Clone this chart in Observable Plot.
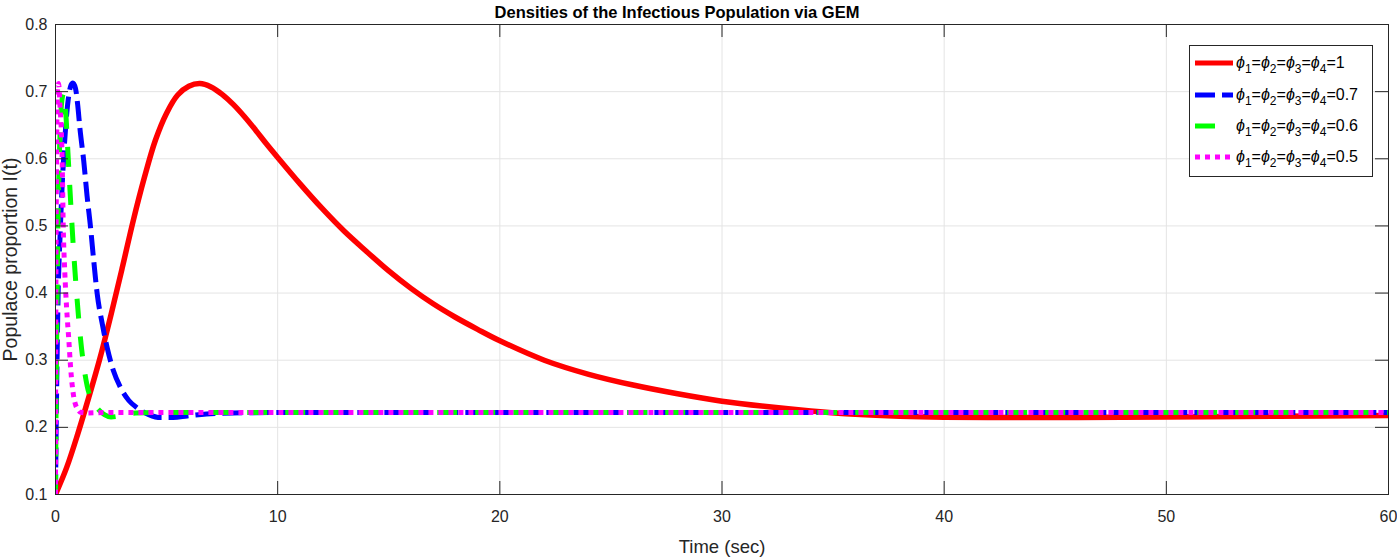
<!DOCTYPE html>
<html><head><meta charset="utf-8">
<script src="https://cdn.jsdelivr.net/npm/d3@7"></script>
<script src="https://cdn.jsdelivr.net/npm/@observablehq/plot@0.6"></script>
<style>
body{margin:0;background:#fff;}
#wrap{position:relative;width:1397px;height:557px;overflow:hidden;}
#legend{position:absolute;left:1189px;top:45px;}
</style></head><body><div id="wrap"></div>
<script>
// ---- data ----
const xTicks = [0, 10, 20, 30, 40, 50, 60];
const yTicks = [0.1, 0.2, 0.3, 0.4, 0.5, 0.6, 0.7, 0.8];
const seriesLabels = ["1", "0.7", "0.6", "0.5"];
const seriesColors = ["#ff0000", "#0000ff", "#00ff00", "#ff00ff"];
const seriesDash = [null, "20,7", "20,18", "5,5"];

const redT = [0,0.5,1,1.5,2,2.5,3,3.5,4,4.5,5,5.5,6,6.5,7,7.5,8,8.5,9,9.5,10,11,12,13,14,15,16,17,18,19,20,22,24,26,28,30,32,34,36,38,40,43,46,50,55,60];
const redI = [0.1,0.14,0.19,0.245,0.303,0.368,0.437,0.508,0.572,0.628,0.668,0.695,0.708,0.712,0.707,0.696,0.681,0.663,0.643,0.622,0.602,0.563,0.526,0.492,0.462,0.433,0.407,0.384,0.364,0.346,0.329,0.3,0.279,0.263,0.25,0.239,0.231,0.2245,0.2195,0.2165,0.215,0.2145,0.2148,0.2155,0.2165,0.2175];

const blueT = [0,0.03,0.07,0.12,0.2,0.3,0.4,0.5,0.6,0.7,0.78,0.9,1.0,1.1,1.27,1.42,1.58,1.73,1.88,2.1,2.33,2.6,2.93,3.3,3.68,4.2,4.73,5.3,5.93,6.8,8,10,60];
const blueI = [0.1,0.2,0.3,0.4,0.48,0.56,0.62,0.665,0.695,0.71,0.713,0.705,0.68,0.645,0.597,0.545,0.497,0.445,0.398,0.355,0.318,0.285,0.259,0.24,0.229,0.219,0.2145,0.2145,0.217,0.22,0.2215,0.222,0.222];

const greenT = [0,0.02,0.05,0.08,0.12,0.17,0.23,0.3,0.38,0.45,0.56,0.68,0.8,0.95,1.13,1.43,1.7,1.95,2.2,2.5,2.8,3.1,3.6,4.5,60];
const greenI = [0.1,0.2,0.32,0.42,0.52,0.6,0.66,0.69,0.698,0.675,0.609,0.537,0.47,0.4,0.331,0.261,0.237,0.226,0.219,0.2155,0.2165,0.219,0.2213,0.222,0.222];

const magentaT = [0,0.01,0.03,0.06,0.1,0.14,0.2,0.3,0.35,0.42,0.5,0.6,0.68,0.8,0.9,1.0,1.13,1.4,2.2,60];
const magentaI = [0.1,0.3,0.5,0.65,0.705,0.712,0.68,0.597,0.497,0.43,0.378,0.33,0.289,0.25,0.234,0.227,0.2225,0.2215,0.222,0.222];

const seriesT = [redT, blueT, greenT, magentaT];
const seriesI = [redI, blueI, greenI, magentaI];

// ---- layout ----
const W = 1397, H = 557;
const mL = 55, mR = 9, mT = 24, mB = 63;
const plotW = W - mL - mR, plotH = H - mT - mB;
const tick = 13;
const FONT = "'Liberation Sans', Arial, Helvetica, sans-serif";
const ink = "#262626";

const lineMarks = seriesLabels.map((lab, k) => {
  const rows = seriesT[k].map((t, i) => ({t, I: seriesI[k][i]}));
  return Plot.line(rows, {
    x: "t", y: "I", stroke: seriesColors[k], strokeWidth: k === 0 ? 5.5 : 5,
    strokeDasharray: seriesDash[k] || undefined, curve: k === 0 ? "catmull-rom" : "monotone-x", clip: true,
    strokeLinecap: "butt", strokeLinejoin: "round"
  });
});

const chart = Plot.plot({
  width: W, height: H,
  marginLeft: mL, marginRight: mR, marginTop: mT, marginBottom: mB,
  style: {fontFamily: FONT, fontSize: "16px", color: ink, background: "#fff"},
  x: {domain: [0, 60], ticks: xTicks},
  y: {domain: [0.1, 0.8], ticks: yTicks},
  marks: [
    Plot.gridX(xTicks, {stroke: "#e4e4e4", strokeOpacity: 1}),
    Plot.gridY(yTicks, {stroke: "#e4e4e4", strokeOpacity: 1}),
    ...lineMarks,
    Plot.frame({stroke: ink, strokeWidth: 1}),
    Plot.ruleX(xTicks, {stroke: ink, insetTop: plotH - tick}),
    Plot.ruleX(xTicks, {stroke: ink, insetBottom: plotH - tick}),
    Plot.ruleY(yTicks, {stroke: ink, insetRight: plotW - tick}),
    Plot.ruleY(yTicks, {stroke: ink, insetLeft: plotW - tick}),
    Plot.axisX({ticks: xTicks, tickSize: 0, tickPadding: 16, label: null, fontSize: 16}),
    Plot.axisY({ticks: yTicks, tickSize: 0, tickPadding: 8, label: null, fontSize: 16, tickFormat: d => d.toFixed(1)}),
    Plot.text(["Time (sec)"], {frameAnchor: "bottom", lineAnchor: "middle", dy: 53, fontSize: 18.5, fill: ink}),
    Plot.text(["Populace proportion I(t)"], {frameAnchor: "left", textAnchor: "middle", lineAnchor: "middle", dx: -45, rotate: -90, fontSize: 19.5, fill: ink}),
    Plot.text(["Densities of the Infectious Population via GEM"], {frameAnchor: "top", lineAnchor: "middle", dy: -12, dx: -45, fontSize: 16.5, fontWeight: "bold", fill: "#000"})
  ]
});
const wrap = document.getElementById("wrap");
wrap.appendChild(chart);

// ---- legend ----
const ns = "http://www.w3.org/2000/svg";
const lg = document.createElementNS(ns, "svg");
lg.setAttribute("id", "legend");
lg.setAttribute("width", 185); lg.setAttribute("height", 133);
let html = `<rect x="0.5" y="0.5" width="183" height="131" fill="#fff" stroke="${ink}"/>`;
const rowY = [18, 50, 81, 112];
seriesLabels.forEach((lab, k) => {
  const y = rowY[k];
  const dash = seriesDash[k] ? ` stroke-dasharray="${seriesDash[k]}"` : "";
  html += `<line x1="6" x2="44" y1="${y}" y2="${y}" stroke="${seriesColors[k]}" stroke-width="5"${dash}/>`;
  let t = `<text x="47" y="${y + 5}" font-family="Liberation Sans, Arial, sans-serif" font-size="16" fill="#000">`;
  for (let j = 1; j <= 4; j++) {
    t += `<tspan font-style="italic">ϕ</tspan><tspan dy="5" font-size="12">${j}</tspan><tspan dy="-5">=</tspan>`;
  }
  t += `<tspan>${lab}</tspan></text>`;
  html += t;
});
lg.innerHTML = html;
wrap.appendChild(lg);
</script>
</body></html>
